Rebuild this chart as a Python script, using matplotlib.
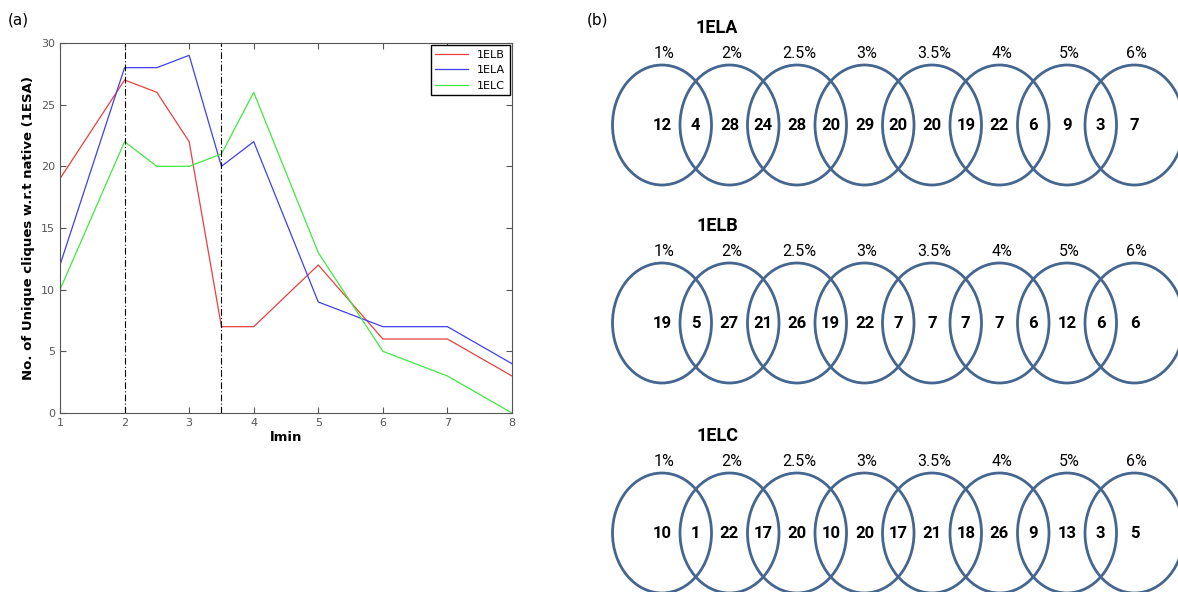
import numpy as np
import matplotlib
matplotlib.use("Agg")
import matplotlib.pyplot as plt
from matplotlib.patches import Ellipse

# panel (a) data
lmin = [1, 2, 2.5, 3, 3.5, 4, 5, 6, 7, 8]
elb = [19, 27, 26, 22, 7, 7, 12, 6, 6, 3]
ela = [12, 28, 28, 29, 20, 22, 9, 7, 7, 4]
elc = [10, 22, 20, 20, 21, 26, 13, 5, 3, 0]
cut_lines = [2, 3.5]

# panel (b) data
pct_labels = ["1%", "2%", "2.5%", "3%", "3.5%", "4%", "5%", "6%"]
row_names = ["1ELA", "1ELB", "1ELC"]
ela_counts = [12, 4, 28, 24, 28, 20, 29, 20, 20, 19, 22, 6, 9, 3, 7]
elb_counts = [19, 5, 27, 21, 26, 19, 22, 7, 7, 7, 7, 6, 12, 6, 6]
elc_counts = [10, 1, 22, 17, 20, 10, 20, 17, 21, 18, 26, 9, 13, 3, 5]
row_counts = [ela_counts, elb_counts, elc_counts]

fig = plt.figure(figsize=(11.78, 5.92), dpi=100)

# ---- (a) line chart
ax = fig.add_axes([60/1178, 179/592, 452/1178, 370/592])
ax.plot(lmin, elb, color='#e84040', lw=0.9, label='1ELB')
ax.plot(lmin, ela, color='#4040e8', lw=0.9, label='1ELA')
ax.plot(lmin, elc, color='#40e840', lw=0.9, label='1ELC')
for xv in cut_lines:
    ax.axvline(xv, color='k', lw=0.8, ls=(0, (6, 2, 1, 2)))
ax.set_xlim(1, 8)
ax.set_ylim(0, 30)
ax.set_xticks(range(1, 9))
ax.set_yticks(range(0, 31, 5))
ax.tick_params(direction='in', top=True, right=True, labelsize=8,
               labelcolor='#555555', color='#555555', length=4)
for s in ax.spines.values():
    s.set_color('#555555')
ax.set_xlabel('lmin', fontsize=9.5, fontweight='bold', labelpad=2)
ax.set_ylabel('No. of Unique cliques w.r.t native (1ESA)', fontsize=9.5,
              fontweight='bold', labelpad=4)
leg = ax.legend(loc='upper right', fontsize=8, fancybox=False, framealpha=1,
                edgecolor='k', handlelength=3, borderaxespad=0.2)
fig.text(8/1178, 1 - 20/592, '(a)', fontsize=11, va='center')
fig.text(587/1178, 1 - 20/592, '(b)', fontsize=11, va='center')

# ---- (b) overlapping ellipses
bx = fig.add_axes([580/1178, 0, 598/1178, 1])
bx.set_xlim(580, 1178)
bx.set_ylim(592, 0)
bx.axis('off')

fam = ['Roboto', 'DejaVu Sans']
x0, step = 662, 67.5
row_y = [125, 323, 533]
for name, yc, counts in zip(row_names, row_y, row_counts):
    centers = [x0 + step * i for i in range(len(pct_labels))]
    for cx, lab in zip(centers, pct_labels):
        bx.add_patch(Ellipse((cx, yc), 99, 120, fill=False,
                             edgecolor='#44668f', lw=2))
        bx.text(cx + 2, yc - 72, lab, ha='center', va='center',
                fontsize=11.5, family=fam)
    bx.text(717, yc - 97, name, ha='center', va='center', fontsize=13,
            fontweight='bold', family=fam)
    for k, v in enumerate(counts):
        xk = x0 + step * k / 2
        bx.text(xk, yc, str(v), ha='center', va='center', fontsize=12,
                fontweight='bold', family=fam)

fig.savefig('out.png', dpi=100)
